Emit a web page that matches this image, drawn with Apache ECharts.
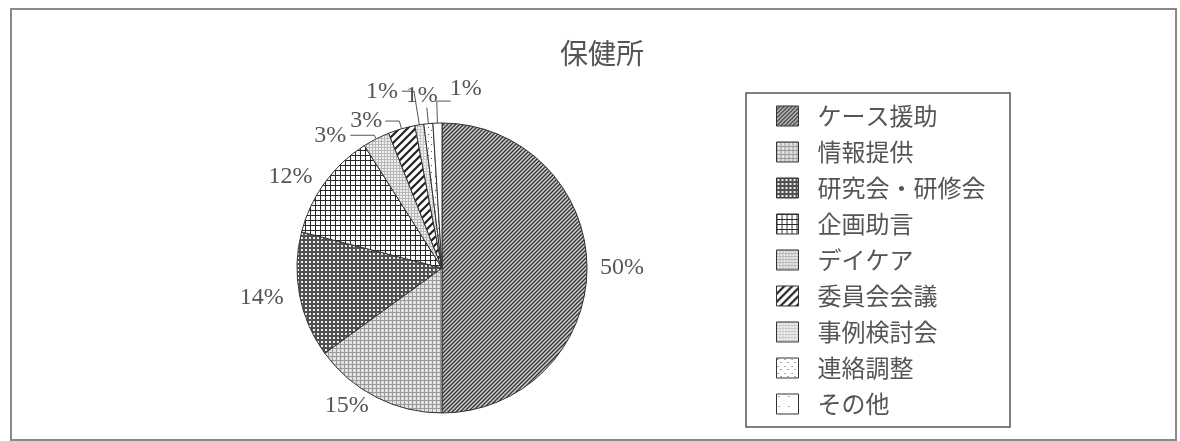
<!DOCTYPE html>
<html><head><meta charset="utf-8">
<script src="https://cdn.jsdelivr.net/npm/echarts@6/dist/echarts.min.js"></script>
<style>html,body{margin:0;padding:0;background:#fff}#c{width:1180px;height:441px}</style>
</head><body><div id="c"></div>
<script>
// ---- data ----
const chartTitle = '保健所';
const categories = ['ケース援助','情報提供','研究会・研修会','企画助言','デイケア','委員会会議','事例検討会','連絡調整','その他'];
const values = [50, 15, 14, 12, 3, 3, 1, 1, 1];

// ---- styles (label placement tweaks per slice) ----
// lift: label drawn one line above the end of its leader line
const labelTweaks = [
  {len: 0,  len2: 0,   dist: 13,  line: false, lift: false},
  {len: 10, len2: 0,   dist: 3,   line: false, lift: false},
  {len: 12, len2: 0,   dist: 4,   line: false, lift: false},
  {len: 10, len2: 0,   dist: 4,   line: false, lift: false},
  {len: 4,  len2: 24,  dist: 4,   line: true,  lift: false},
  {len: 8,  len2: 14,  dist: 3,   line: true,  lift: false},
  {len: 34, len2: 12,  dist: 4,   line: true,  lift: false},
  {len: 16, len2: 0,   dist: -11, line: true,  lift: true},
  {len: 22, len2: -14, dist: -31, line: true,  lift: true}
];

function makePattern(w, h, draw) {
  const c = document.createElement('canvas');
  c.width = w; c.height = h;
  const g = c.getContext('2d');
  draw(g, w, h);
  return {image: c, repeat: 'repeat'};
}
function diag(g, w, lw, col) {
  g.strokeStyle = col; g.lineWidth = lw;
  g.beginPath();
  g.moveTo(-1, w + 1); g.lineTo(w + 1, -1);
  g.moveTo(-1, 1); g.lineTo(1, -1);
  g.moveTo(w - 1, w + 1); g.lineTo(w + 1, w - 1);
  g.stroke();
}
const patterns = [
  makePattern(4, 4, (g) => { g.fillStyle = '#cfcfcf'; g.fillRect(0,0,4,4); diag(g, 4, 1.3, '#333'); }),
  makePattern(4, 4, (g) => { g.fillStyle = '#e2e2e2'; g.fillRect(0,0,4,4); g.fillStyle = '#9a9a9a'; g.fillRect(0,0,4,1); g.fillRect(0,0,1,4); }),
  makePattern(4, 4, (g) => { g.fillStyle = '#505050'; g.fillRect(0,0,4,4); g.fillStyle = '#efefef'; g.fillRect(1,1,2,2); }),
  makePattern(5, 5, (g) => { g.fillStyle = '#ffffff'; g.fillRect(0,0,5,5); g.fillStyle = '#2a2a2a'; g.fillRect(0,0,5,1); g.fillRect(0,0,1,5); }),
  makePattern(3, 3, (g) => { g.fillStyle = '#eeeeee'; g.fillRect(0,0,3,3); g.fillStyle = '#b8b8b8'; g.fillRect(0,0,3,1); g.fillRect(0,0,1,3); }),
  makePattern(8, 8, (g) => { g.fillStyle = '#ffffff'; g.fillRect(0,0,8,8); diag(g, 8, 2.2, '#222'); }),
  makePattern(3, 3, (g) => { g.fillStyle = '#f3f3f3'; g.fillRect(0,0,3,3); g.fillStyle = '#cacaca'; g.fillRect(0,0,3,1); g.fillRect(0,0,1,3); }),
  makePattern(7, 7, (g) => { g.fillStyle = '#ffffff'; g.fillRect(0,0,7,7); g.fillStyle = '#555'; g.fillRect(1,1,1,1); g.fillRect(4,4,1,1); }),
  makePattern(10, 10, (g) => { g.fillStyle = '#ffffff'; g.fillRect(0,0,10,10); g.fillStyle = '#555'; g.fillRect(2,2,1,1); })
];

const pieData = categories.map((name, i) => {
  const t = labelTweaks[i];
  return {
    name: name,
    value: values[i],
    itemStyle: {color: patterns[i]},
    label: {distanceToLabelLine: t.dist, formatter: t.lift ? '{c}%\n ' : '{c}%'},
    labelLine: {show: t.line, length: t.len, length2: t.len2}
  };
});

const chart = echarts.init(document.getElementById('c'), null, {renderer: 'canvas'});
chart.setOption({
  animation: false,
  backgroundColor: '#ffffff',
  title: {
    text: chartTitle, left: 555, top: 34,
    textStyle: {fontFamily: 'Noto Sans CJK JP', fontSize: 28, fontWeight: 'normal', color: '#555'}
  },
  legend: {
    orient: 'vertical', left: 776, top: 104, padding: 0,
    itemWidth: 22, itemHeight: 20, itemGap: 12,
    icon: 'rect', selectedMode: false,
    itemStyle: {borderColor: '#333', borderWidth: 1},
    textStyle: {fontFamily: 'Noto Sans CJK JP', fontSize: 24, color: '#555', padding: [0,0,0,14]},
    data: categories
  },
  graphic: [
    {type: 'rect', silent: true, z: -1, shape: {x: 11, y: 9, width: 1165, height: 431},
     style: {fill: 'none', stroke: '#8a8a8a', lineWidth: 2}},
    {type: 'rect', silent: true, shape: {x: 746, y: 93, width: 264, height: 334},
     style: {fill: 'none', stroke: '#555', lineWidth: 1.5}}
  ],
  series: [{
    type: 'pie',
    center: [442, 268],
    radius: 145,
    startAngle: 90,
    clockwise: true,
    avoidLabelOverlap: false,
    labelLayout: {hideOverlap: false},
    silent: true,
    itemStyle: {borderColor: '#333', borderWidth: 1},
    emphasis: {disabled: true},
    label: {
      show: true, position: 'outside',
      fontFamily: 'Liberation Serif', fontSize: 24, lineHeight: 24, color: '#555'
    },
    labelLine: {lineStyle: {color: '#555', width: 1}, minTurnAngle: 0, maxSurfaceAngle: 180, smooth: false},
    data: pieData
  }]
});
</script>
</body></html>
